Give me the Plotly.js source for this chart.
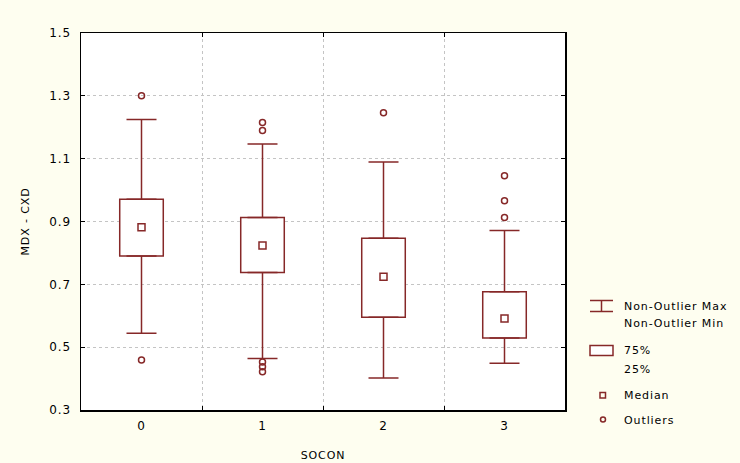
<!DOCTYPE html>
<html>
<head>
<meta charset="utf-8">
<script src="https://cdn.plot.ly/plotly-3.0.1.min.js"></script>
<style>
html,body{margin:0;padding:0;background:#fefef0;}
#chart{width:740px;height:463px;}
#chart text{letter-spacing:0.9px;}
</style>
</head>
<body>
<div id="chart"></div>
<script>
// Data
const categories = ['0', '1', '2', '3'];
const q1 = [0.790, 0.738, 0.595, 0.529];
const medians = [0.882, 0.824, 0.724, 0.591];
const q3 = [0.971, 0.913, 0.847, 0.676];
const whiskerMin = [0.544, 0.464, 0.402, 0.449];
const whiskerMax = [1.225, 1.147, 1.089, 0.871];
const outlierX = ['0', '0', '1', '1', '1', '1', '1', '2', '3', '3', '3'];
const outlierY = [1.300, 0.459, 1.215, 1.190, 0.453, 0.438, 0.422, 1.246, 1.046, 0.966, 0.913];
const yTicks = [0.3, 0.5, 0.7, 0.9, 1.1, 1.3, 1.5];

const RED = '#862828';
const FONT = 'DejaVu Sans, Verdana, sans-serif';

const traces = [
  // box (75% / 25%)
  {
    type: 'bar', x: categories, base: q1,
    y: q3.map((v, i) => v - q1[i]),
    width: 0.36,
    marker: {color: '#ffffff', line: {color: RED, width: 1.5}},
    hoverinfo: 'skip', showlegend: false
  },
  // upper whisker
  {
    type: 'scatter', mode: 'markers', x: categories, y: q3,
    marker: {size: 1, opacity: 0},
    error_y: {type: 'data', symmetric: false,
      array: whiskerMax.map((v, i) => v - q3[i]),
      arrayminus: q3.map(() => 0),
      width: 15, thickness: 1.5, color: RED},
    hoverinfo: 'skip', showlegend: false
  },
  // lower whisker
  {
    type: 'scatter', mode: 'markers', x: categories, y: q1,
    marker: {size: 1, opacity: 0},
    error_y: {type: 'data', symmetric: false,
      array: q1.map(() => 0),
      arrayminus: q1.map((v, i) => v - whiskerMin[i]),
      width: 15, thickness: 1.5, color: RED},
    hoverinfo: 'skip', showlegend: false
  },
  // medians
  {
    type: 'scatter', mode: 'markers', x: categories, y: medians,
    marker: {symbol: 'square-open', size: 7, color: RED, line: {width: 1.5, color: RED}},
    showlegend: false
  },
  // outliers
  {
    type: 'scatter', mode: 'markers', x: outlierX, y: outlierY,
    marker: {symbol: 'circle-open', size: 6, color: RED, line: {width: 1.5, color: RED}},
    showlegend: false
  }
];

// custom legend (paper coordinates)
const W = 740 - 81 - 175, H = 463 - 33 - 53;
const px = x => (x - 81) / W;
const py = y => (410 - y) / H;
const shapes = [
  {type: 'line', xref: 'paper', yref: 'paper', x0: px(590), x1: px(613), y0: py(300.5), y1: py(300.5), line: {color: RED, width: 1.5}},
  {type: 'line', xref: 'paper', yref: 'paper', x0: px(590), x1: px(613), y0: py(311.5), y1: py(311.5), line: {color: RED, width: 1.5}},
  {type: 'line', xref: 'paper', yref: 'paper', x0: px(601.5), x1: px(601.5), y0: py(300.5), y1: py(311.5), line: {color: RED, width: 1.5}},
  {type: 'rect', xref: 'paper', yref: 'paper', x0: px(590), x1: px(613), y0: py(345.5), y1: py(355.5), line: {color: RED, width: 1.5}, fillcolor: '#ffffff'},
  {type: 'rect', xref: 'paper', yref: 'paper', x0: px(600), x1: px(605.5), y0: py(392.5), y1: py(398), line: {color: RED, width: 1.5}},
  {type: 'circle', xref: 'paper', yref: 'paper', x0: px(600.5), x1: px(605.5), y0: py(417), y1: py(422), line: {color: RED, width: 1.5}}
];
const legendText = [
  ['Non-Outlier Max', 306], ['Non-Outlier Min', 323], ['75%', 350.5], ['25%', 369], ['Median', 395.5], ['Outliers', 420]
];
const annotations = legendText.map(([t, y]) => ({
  text: t, xref: 'paper', yref: 'paper', x: px(622), y: py(y), xanchor: 'left', yanchor: 'middle',
  align: 'left', showarrow: false, font: {family: FONT, size: 11, color: '#000'}
}));

const layout = {
  width: 740, height: 463,
  margin: {l: 81, r: 175, t: 33, b: 53},
  paper_bgcolor: '#fefef0', plot_bgcolor: '#ffffff',
  font: {family: FONT, size: 11, color: '#000'},
  showlegend: false,
  xaxis: {
    type: 'category', categoryorder: 'array', categoryarray: categories,
    range: [-0.5, 3.5], tickson: 'boundaries',
    showline: true, linecolor: '#000', linewidth: 1.5, mirror: 'ticks',
    ticks: 'inside', ticklen: 4, tickcolor: '#000',
    showgrid: true, gridcolor: '#c4c4c4', griddash: 'dot', gridwidth: 1,
    zeroline: false, ticklabelstandoff: 4,
    title: {text: 'SOCON', font: {family: FONT, size: 11}, standoff: 19},
    tickfont: {family: FONT, size: 12}
  },
  yaxis: {
    range: [0.3, 1.5], tickvals: yTicks, ticktext: yTicks.map(v => v.toFixed(1)),
    showline: true, linecolor: '#000', linewidth: 1.5, mirror: 'ticks',
    ticks: 'inside', ticklen: 4, tickcolor: '#000',
    showgrid: true, gridcolor: '#c4c4c4', griddash: 'dot', gridwidth: 1,
    zeroline: false, ticklabelstandoff: 6,
    title: {text: 'MDX - CXD', font: {family: FONT, size: 11}, standoff: 20},
    tickfont: {family: FONT, size: 12}
  },
  shapes: shapes,
  annotations: annotations
};

Plotly.newPlot('chart', traces, layout, {displayModeBar: false, staticPlot: true});
</script>
</body>
</html>
